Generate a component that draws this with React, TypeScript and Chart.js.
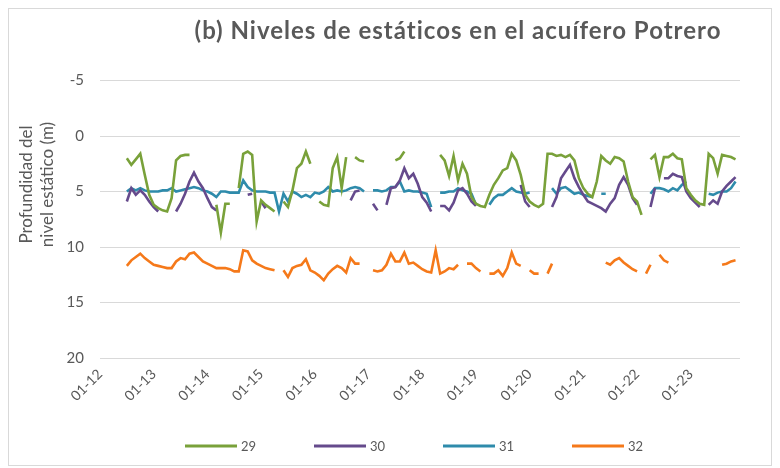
import React, { useEffect, useRef } from 'react';
import { Chart, registerables } from 'chart.js';

Chart.register(...registerables);

// ---------- categories (monthly, Jan 2012 .. Dec 2023) ----------
const yearLabels = ['12', '13', '14', '15', '16', '17', '18', '19', '20', '21', '22', '23'];
const monthLabels = ['01', '02', '03', '04', '05', '06', '07', '08', '09', '10', '11', '12'];
const categories: string[] = [];
for (const yy of yearLabels) {
  for (const mm of monthLabels) categories.push(`${mm}-${yy}`);
}

const chartTitle = '(b) Niveles de estáticos en el acuífero Potrero';
const yTitleLines = ['Profundidad del', 'nivel estático (m)'];
const seriesNames = ['29', '30', '31', '32'];

// ---------- series values (m), one row per year ----------
const n = null;
const well29 = [
  n, n, n, n, n, n, 2.0, 2.6, 2.1, 1.6, 3.5, 5.3,
  6.2, 6.5, 6.7, 6.8, 5.6, 2.2, 1.8, 1.7, 1.7, n, n, n,
  n, n, 6.2, 8.7, 6.1, 6.1, n, 4.7, 1.6, 1.4, 1.7, 7.7,
  5.8, 6.2, 6.5, 6.8, n, 5.9, 6.4, 4.9, 2.9, 2.5, 1.4, 2.5,
  n, 5.9, 6.2, 6.3, 2.9, 1.9, 4.7, 1.9, n, 1.9, 2.2, 2.3,
  n, n, n, n, n, n, 2.2, 2.0, 1.4, n, n, n,
  n, n, n, n, 1.7, 2.2, 3.6, 1.8, 4.0, 2.5, 3.4, 5.5,
  6.1, 6.3, 6.4, 5.3, 4.4, 3.8, 3.1, 2.9, 1.6, 2.2, 3.5, 5.3,
  5.9, 6.2, 6.4, 6.1, 1.6, 1.6, 1.8, 1.7, 1.9, 1.7, 2.2, 3.8,
  4.7, 5.2, 5.5, 4.1, 1.8, 2.2, 2.5, 1.9, 2.0, 2.3, 4.1, 5.5,
  5.9, 7.1, n, 2.1, 1.7, 3.7, 1.9, 1.9, 1.6, 2.0, 2.1, 4.7,
  5.3, 5.8, 6.1, 6.2, 1.6, 2.0, 3.4, 1.7, 1.8, 1.9, 2.1, n,
];
const well30 = [
  n, n, n, n, n, n, 5.9, 4.7, 5.3, 4.9, 5.3, 5.9,
  6.4, 6.8, n, n, n, 6.8, 6.1, 5.2, 4.1, 3.3, 4.1, 4.7,
  5.6, 6.4, 6.7, n, n, n, n, n, n, 5.3, 5.2, n,
  5.9, 6.5, n, n, n, n, n, n, n, n, n, n,
  n, n, n, n, n, n, n, n, 5.8, 5.0, 4.9, n,
  n, 6.1, 6.7, n, 6.2, 4.7, 4.6, 4.0, 2.9, 3.8, 3.4, 4.3,
  5.5, 6.0, 6.8, n, 6.3, 6.3, 6.7, 6.0, 4.9, 4.7, 5.2, 5.9,
  6.3, n, n, n, n, n, n, n, n, n, 4.4, 5.9,
  6.4, n, n, n, n, 6.4, 5.5, 3.8, 3.2, 2.6, 3.8, 4.6,
  5.3, 5.9, 6.1, 6.3, 6.5, 6.8, 6.1, 5.6, 4.4, 3.7, 4.4, 5.6,
  6.2, n, n, 6.4, 4.7, n, 3.8, 3.8, 3.4, 3.6, 3.7, 5.0,
  5.6, 6.0, 6.4, n, 6.2, 5.8, 6.1, 5.0, 4.5, 4.1, 3.7, n,
];
const well31 = [
  n, n, n, n, n, n, 5.0, 4.7, 4.9, 4.7, 4.9, 5.0,
  5.0, 5.0, 4.9, 4.9, 4.7, 5.0, 4.9, 4.8, 4.7, 4.6, 4.7, 4.9,
  5.0, 5.2, 5.5, 5.0, 5.0, 5.1, 5.1, 5.1, 4.0, 4.6, 4.9, 5.0,
  5.0, 5.0, 5.1, 5.1, 6.8, 5.2, 5.9, 5.0, 5.2, 5.5, 5.3, 5.5,
  5.1, 5.2, 5.0, 4.6, 5.0, 4.9, 5.0, 4.9, 4.7, 4.6, 4.7, 5.0,
  n, 4.9, 4.9, 5.0, 4.9, 4.6, 4.6, 4.1, 5.0, 4.9, 5.0, 5.0,
  5.1, 5.2, 6.4, n, 5.1, 5.1, 5.0, 5.0, 4.7, 4.9, 5.0, 5.2,
  6.2, n, n, 6.2, 5.6, 5.3, 5.3, 5.0, 4.7, 5.0, 5.1, 5.2,
  5.1, n, n, n, n, 4.7, 5.2, 4.7, 4.6, 4.9, 5.2, 5.1,
  5.3, 5.4, 5.5, n, 5.2, 5.2, n, n, n, n, n, n,
  n, n, n, 5.2, 4.7, 4.7, 4.8, 5.0, 4.7, 4.9, 4.4, 4.1,
  n, n, n, n, 5.2, 5.3, 5.1, 5.0, 5.0, 4.7, 4.1, n,
];
const well32 = [
  n, n, n, n, n, n, 11.7, 11.2, 10.9, 10.6, 11.0, 11.3,
  11.6, 11.7, 11.8, 11.9, 11.9, 11.3, 11.0, 11.1, 10.6, 10.5, 10.9, 11.3,
  11.5, 11.7, 11.9, 11.9, 11.9, 12.0, 12.2, 12.2, 10.3, 10.4, 11.2, 11.5,
  11.7, 11.9, 12.0, 12.1, n, 12.1, 12.7, 11.9, 11.7, 11.6, 11.1, 12.1,
  12.3, 12.6, 13.0, 12.4, 12.0, 11.7, 11.9, 12.3, 11.0, 11.5, 11.5, n,
  n, 12.1, 12.2, 12.1, 11.6, 10.6, 11.3, 11.3, 10.5, 11.5, 11.4, 11.7,
  12.0, 12.2, 12.3, 10.3, 12.4, 12.2, 11.9, 12.0, 11.6, n, 11.5, 11.5,
  11.9, 12.2, n, 12.4, 12.4, 12.1, 12.6, 11.9, 10.5, 11.5, 11.7, n,
  12.1, 12.4, 12.4, n, 12.4, 11.5, n, n, n, n, n, n,
  n, n, n, n, n, 11.4, 11.6, 11.2, 11.0, 11.4, 11.7, 12.0,
  12.2, n, 12.4, 11.6, n, 10.7, 11.2, 11.4, n, n, n, n,
  n, n, n, n, n, n, n, 11.6, 11.5, 11.3, 11.2, n,
];

const yTicks = { min: -5, max: 20, step: 5 };
const colors = ['#79a13a', '#654a8c', '#2e8bab', '#f5791a'];

const FONT = 'Lato, "Open Sans", sans-serif';
const TEXT = '#595959';

const decorPlugin = {
  id: 'excelDecor',
  afterDraw(chart: any) {
    const ctx = chart.ctx as CanvasRenderingContext2D;
    const area = chart.chartArea;
    ctx.save();
    // main title
    ctx.fillStyle = TEXT;
    ctx.font = `bold 24px ${FONT}`;
    (ctx as any).letterSpacing = '1px';
    ctx.textAlign = 'center';
    ctx.textBaseline = 'middle';
    ctx.fillText(chartTitle, area.left + 358, 22);
    (ctx as any).letterSpacing = '0px';

    // y-axis title (two rotated lines)
    ctx.save();
    ctx.translate(28, area.top + 104);
    ctx.rotate(-Math.PI / 2);
    ctx.font = `17px ${FONT}`;
    ctx.fillText(yTitleLines[0], 0, -10);
    ctx.fillText(yTitleLines[1], 0, 11);
    ctx.restore();

    // legend
    ctx.font = `13px ${FONT}`;
    ctx.textAlign = 'left';
    ctx.textBaseline = 'middle';
    const ly = 437;
    chart.data.datasets.forEach((ds: any, i: number) => {
      const x0 = 176 + i * 129;
      ctx.strokeStyle = ds.borderColor;
      ctx.lineWidth = 3;
      ctx.beginPath();
      ctx.moveTo(x0, ly);
      ctx.lineTo(x0 + 52, ly);
      ctx.stroke();
      ctx.fillStyle = TEXT;
      ctx.fillText(ds.label, x0 + 56, ly + 1);
    });
    ctx.restore();
  },
};

export default function App() {
  const ref = useRef<HTMLCanvasElement | null>(null);
  useEffect(() => {
    if (!ref.current) return;
    const series = [well29, well30, well31, well32];
    const chart = new Chart(ref.current, {
      type: 'line',
      data: {
        labels: categories,
        datasets: series.map((d, i) => ({
          label: seriesNames[i],
          data: d,
          borderColor: colors[i],
          backgroundColor: colors[i],
          borderWidth: 2.6,
          pointRadius: 0,
          pointHoverRadius: 0,
          tension: 0,
          spanGaps: false,
          fill: false,
        })),
      },
      options: {
        responsive: false,
        animation: false,
        devicePixelRatio: 1,
        layout: { padding: { left: 0, right: 31, top: 71.5, bottom: 0 } },
        plugins: {
          legend: { display: false },
          title: { display: false },
          tooltip: { enabled: false },
        },
        scales: {
          x: {
            type: 'category',
            offset: false,
            grid: { display: false, drawTicks: false },
            border: { display: false },
            ticks: {
              autoSkip: false,
              maxRotation: 45,
              minRotation: 45,
              padding: 8,
              color: TEXT,
              font: { family: FONT, size: 14 },
              callback: (_v: any, idx: number) => (idx % 12 === 0 ? categories[idx] : ''),
            },
            afterFit: (s: any) => {
              s.height = 107;
            },
          },
          y: {
            reverse: true,
            min: yTicks.min,
            max: yTicks.max,
            grid: { color: '#d9d9d9', lineWidth: 1, drawTicks: false },
            border: { display: false },
            ticks: {
              stepSize: yTicks.step,
              padding: 16,
              color: TEXT,
              font: { family: FONT, size: 15 },
            },
            afterFit: (s: any) => {
              s.width = 91;
            },
          },
        },
      },
      plugins: [decorPlugin],
    });
    return () => chart.destroy();
  }, []);

  return (
    <div
      style={{
        position: 'relative',
        width: 762,
        height: 456,
        border: '1px solid #d9d9d9',
        background: '#fff',
      }}
    >
      <canvas ref={ref} width={762} height={456} style={{ display: 'block' }} />
    </div>
  );
}
